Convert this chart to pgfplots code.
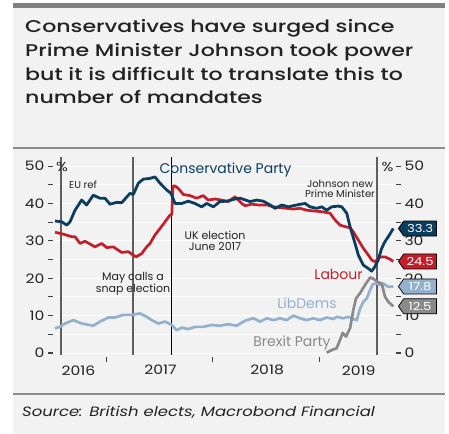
\documentclass[border=0pt]{standalone}
\usepackage{fontspec}
\setmainfont{Poppins}
\usepackage{pgfplots}
\pgfplotsset{compat=1.18}
\usetikzlibrary{shapes.symbols}
\definecolor{panel}{HTML}{F2F2F2}
\definecolor{topbar}{HTML}{808080}
\definecolor{rulec}{HTML}{8C8C8C}
\definecolor{con}{HTML}{0B3D5E}
\definecolor{lab}{HTML}{C41E2A}
\definecolor{lib}{HTML}{93B1CE}
\definecolor{brx}{HTML}{8A8A8A}
\definecolor{vline}{HTML}{5E5E5E}
\definecolor{txt}{HTML}{222222}
\newfontfamily\wide{Poppins}[FakeStretch=1.2]
\newfontfamily\titlefont{Poppins Medium}[FakeStretch=1.30]
\newfontfamily\srcfont{Poppins}[FakeStretch=1.22]
\newcommand\fs[1]{\fontsize{#1bp}{#1bp}\selectfont}
\begin{document}
\begin{tikzpicture}[x=1bp,y=1bp]
\path[use as bounding box] (0,0) rectangle (449,-434);
\fill[panel] (13,-3) rectangle (445,-434);
\fill[topbar] (13,-3) rectangle (445,-8);
\draw[rulec,line width=1.2bp] (13,-148) -- (445,-148);
\draw[rulec,line width=1.2bp] (13,-394) -- (445,-394);
\node[anchor=base west,inner sep=0,text=txt] at (25,-33) {\titlefont\fs{17}Conservatives have surged since};
\node[anchor=base west,inner sep=0,text=txt] at (25,-57) {\titlefont\fs{17}Prime Minister Johnson took power};
\node[anchor=base west,inner sep=0,text=txt] at (25,-80.5) {\titlefont\fs{17}but it is difficult to translate this to};
\node[anchor=base west,inner sep=0,text=txt] at (25,-104) {\titlefont\fs{17}number of mandates};
\node[anchor=base west,inner sep=0,text=txt] at (22,-416) {\srcfont\fs{13.5}\itshape Source: British elects, Macrobond Financial};

\begin{axis}[
  at={(53bp,-354.9bp)}, anchor=south west,
  scale only axis, width=343bp, height=198.2bp,
  xmin=2016.5, xmax=2019.7207, ymin=-0.5, ymax=52.5,
  axis line style={draw=none},
  clip=false,
  ytick={0,5,...,50},
  yticklabels={0,,10,,20,,30,,40,,50},
  ytick pos=left,
  ymajorgrids, grid style={white, line width=1bp},
  tick align=outside,
  major tick length=5bp,
  y tick style={draw=black!75, line width=1.1bp},
  x tick style={draw=black!75, line width=1.1bp, yshift=-2bp},
  xtick={2017,2018,2019}, xticklabels={},
  xtick pos=bottom,
  extra x ticks={2016.74,2017.51,2018.51,2019.37},
  extra x tick labels={2016,2017,2018,2019},
  extra x tick style={major tick length=0pt, xmajorgrids=false, ymajorgrids=false},
  xticklabel style={font=\wide\fs{13}, text=txt, yshift=-7bp},
  yticklabel style={font=\wide\fs{13}, text=txt},
  /pgf/number format/assume math mode=true,
]
% event lines
\addplot[vline, line width=1.5bp] coordinates {(2016.575,-0.5) (2016.575,52.5)};
\addplot[vline, line width=1.5bp] coordinates {(2017.251,-0.5) (2017.251,52.5)};
\addplot[black, line width=1bp] coordinates {(2017.608,-0.5) (2017.608,52.5)};
\addplot[vline, line width=1.5bp] coordinates {(2019.542,-0.5) (2019.542,52.5)};
% LibDems
\addplot[lib, line width=2.7bp, line join=round] coordinates {
(2016.519,6.6)(2016.566,7.0)(2016.613,7.9)(2016.691,8.8)(2016.769,7.9)(2016.878,7.3)(2016.941,8.4)
(2017.019,9.5)(2017.082,9.5)(2017.160,10.2)(2017.239,10.2)(2017.317,10.6)(2017.380,9.7)(2017.427,8.8)
(2017.489,7.9)(2017.552,8.4)(2017.615,7.5)(2017.662,6.1)(2017.709,6.8)(2017.770,6.4)(2017.833,7.0)
(2017.911,7.0)(2017.990,7.5)(2018.068,7.3)(2018.146,7.7)(2018.225,7.3)(2018.287,8.4)(2018.319,8.8)
(2018.381,9.3)(2018.444,8.4)(2018.507,9.3)(2018.569,8.8)(2018.631,9.3)(2018.694,8.8)(2018.756,10.0)
(2018.819,9.3)(2018.882,8.8)(2018.944,9.3)(2019.007,8.8)(2019.070,9.5)(2019.132,9.1)(2019.164,9.7)
(2019.226,9.3)(2019.273,9.7)(2019.305,9.3)(2019.352,8.8)(2019.383,11.9)(2019.414,13.7)(2019.446,14.6)
(2019.477,16.8)(2019.502,18.4)(2019.540,18.6)(2019.570,18.2)(2019.601,18.6)(2019.648,17.7)(2019.695,17.8)};
% Brexit Party
\addplot[brx, line width=2.7bp, line join=round] coordinates {
(2019.070,0.1)(2019.117,0.8)(2019.164,1.3)(2019.195,3.5)(2019.220,5.4)(2019.251,4.4)(2019.289,6.6)
(2019.320,11.5)(2019.345,14.6)(2019.383,16.0)(2019.430,18.2)(2019.477,20.2)(2019.507,19.9)(2019.540,19.1)
(2019.586,18.6)(2019.617,15.1)(2019.648,13.7)(2019.695,12.5)};
% Labour
\addplot[lab, line width=2.7bp, line join=round] coordinates {
(2016.519,32.3)(2016.597,31.8)(2016.676,31.1)(2016.707,31.1)(2016.754,29.3)(2016.800,29.9)(2016.863,28.9)
(2016.894,28.4)(2016.957,29.3)(2017.004,28.2)(2017.066,28.4)(2017.145,26.9)(2017.207,27.1)(2017.279,25.7)
(2017.333,26.6)(2017.380,28.4)(2017.411,29.3)(2017.458,31.6)(2017.505,33.3)(2017.552,35.1)(2017.599,36.9)
(2017.615,36.9)(2017.627,44.7)(2017.646,44.7)(2017.677,44.0)(2017.724,42.4)(2017.786,42.1)(2017.849,41.4)
(2017.911,42.1)(2017.958,40.9)(2018.021,41.2)(2018.084,40.9)(2018.146,40.5)(2018.209,41.8)(2018.272,40.0)
(2018.303,39.4)(2018.366,39.8)(2018.428,39.6)(2018.507,39.6)(2018.569,39.1)(2018.631,38.9)(2018.694,38.7)
(2018.756,38.5)(2018.819,38.7)(2018.882,38.2)(2018.944,38.0)(2019.023,37.8)(2019.101,37.4)(2019.148,35.6)
(2019.195,34.2)(2019.242,33.8)(2019.289,33.5)(2019.320,32.4)(2019.367,30.2)(2019.414,28.0)(2019.461,26.2)
(2019.492,24.9)(2019.523,24.4)(2019.570,25.7)(2019.617,25.7)(2019.664,25.1)(2019.695,24.5)};
% Conservatives
\addplot[con, line width=2.8bp, line join=round] coordinates {
(2016.519,35.3)(2016.582,35.1)(2016.629,34.2)(2016.660,35.1)(2016.707,38.2)(2016.769,40.9)(2016.816,39.6)
(2016.878,42.2)(2016.941,41.4)(2016.988,41.4)(2017.035,39.8)(2017.098,40.3)(2017.145,40.2)(2017.223,42.7)
(2017.254,42.4)(2017.301,45.4)(2017.348,46.5)(2017.411,46.7)(2017.458,47.1)(2017.505,45.4)(2017.568,43.6)
(2017.608,42.7)(2017.646,40.0)(2017.709,40.0)(2017.770,40.6)(2017.833,40.0)(2017.896,39.1)(2017.943,40.0)
(2018.005,39.1)(2018.068,40.5)(2018.131,40.6)(2018.209,41.2)(2018.257,41.4)(2018.350,40.5)(2018.412,40.9)
(2018.475,40.6)(2018.538,39.6)(2018.585,38.7)(2018.648,39.6)(2018.709,39.1)(2018.788,39.6)(2018.866,40.0)
(2018.913,39.1)(2018.976,38.7)(2019.023,39.1)(2019.070,38.2)(2019.117,39.1)(2019.179,39.3)(2019.211,39.1)
(2019.258,37.4)(2019.289,33.8)(2019.336,29.3)(2019.367,26.2)(2019.414,23.5)(2019.461,22.6)(2019.492,21.9)
(2019.523,23.1)(2019.554,24.9)(2019.586,28.0)(2019.617,29.8)(2019.648,31.1)(2019.695,33.3)};
% annotations
\node[text=con, font=\fs{14}] at (axis cs:2018.120,48.9) {Conservative Party};
\node[text=txt, font=\fs{10}] at (axis cs:2016.782,44.9) {EU ref};
\node[text=txt, font=\fs{11}, align=center] at (axis cs:2017.251,18.4) {May calls a\\snap election};
\node[text=txt, font=\fs{11}, align=center] at (axis cs:2018.021,30.1) {UK election\\June 2017};
\node[text=txt, font=\fs{10}, align=center] at (axis cs:2019.195,43.9) {Johnson new\\Prime Minister};
\node[text=lab, font=\fs{14}] at (axis cs:2019.181,21.1) {Labour};
\node[text=lib, font=\fs{14}] at (axis cs:2018.885,13.3) {LibDems};
\node[text=brx, font=\fs{14}] at (axis cs:2018.744,2.75) {Brexit Party};
\node[text=txt, font=\wide\fs{13}] at (axis cs:2016.585,49.7) {\%};
\node[text=txt, font=\wide\fs{13}] at (axis cs:2019.641,49.7) {\%};
\end{axis}

\begin{axis}[
  at={(53bp,-354.9bp)}, anchor=south west,
  scale only axis, width=343bp, height=198.2bp,
  xmin=2016.5, xmax=2019.7207, ymin=-0.5, ymax=52.5,
  axis line style={draw=none},
  clip=false,
  xtick=\empty,
  ytick={0,5,...,50},
  yticklabels={0,,10,,20,,30,,40,,50},
  ytick pos=right, yticklabel pos=right,
  tick align=outside,
  major tick length=5bp,
  y tick style={draw=black!75, line width=1.1bp},
  yticklabel style={font=\wide\fs{13}, text=txt},
  /pgf/number format/assume math mode=true,
]
\coordinate (bc) at (axis cs:2019.7207,33.3);
\coordinate (bl) at (axis cs:2019.7207,24.5);
\coordinate (bd) at (axis cs:2019.7207,17.8);
\coordinate (bb) at (axis cs:2019.7207,12.5);
\end{axis}
\tikzset{tag/.style={signal, signal to=west, signal pointer angle=110, draw=black, line width=0.7bp,
  text=white, minimum height=15bp, minimum width=38bp, inner sep=1bp, anchor=west, font=\wide\fs{11}}}
\node[tag, fill=con] at ([xshift=2bp]bc) {33.3};
\node[tag, fill=lab] at ([xshift=2bp]bl) {24.5};
\node[tag, fill=lib] at ([xshift=2bp]bd) {17.8};
\node[tag, fill=brx] at ([xshift=2bp]bb) {12.5};
\end{tikzpicture}
\end{document}
